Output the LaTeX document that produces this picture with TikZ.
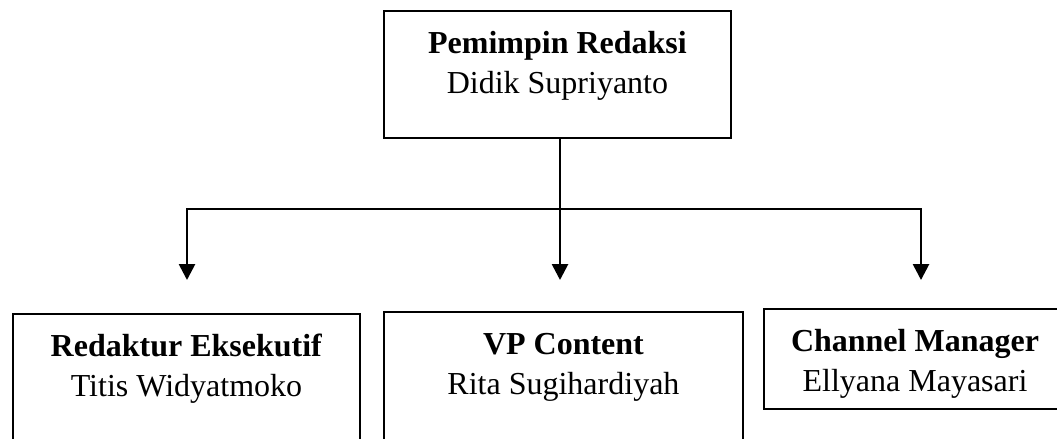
\documentclass[tikz,border=0pt]{standalone}
\usepackage{fontspec}
\setmainfont{Liberation Serif}
\usepackage{tikz}
\usetikzlibrary{arrows.meta}
\tikzset{
	jabatan/.style={draw,line width=0.75pt,inner sep=0pt,anchor=north west},
	garis/.style={line width=1pt},
	panah/.style={line width=1pt,->}
}
% isi kotak: lebar, tinggi, jabatan, nama
\newcommand{\isikotak}[4]{\parbox[t][#2][t]{#1}{\centering\fontsize{12}{15}\selectfont
	\rule{0pt}{15.75pt}\textbf{#3}\\#4}}

\begin{document}
\begin{tikzpicture}[line cap=rect,line join=miter,>={Triangle[width=6pt,length=6pt]},x=0.375pt,y=-0.375pt]
	\useasboundingbox (0,0) rectangle (1057,438);
	\clip (0,0) rectangle (1057,438);
	% kotak
	\node[jabatan] (pemimpin) at (383,10) {\isikotak{130.1pt}{47.6pt}{Pemimpin Redaksi}{Didik Supriyanto}};
	\node[jabatan] (redaktur) at (12,313) {\isikotak{130.1pt}{60pt}{Redaktur Eksekutif}{Titis Widyatmoko}};
	\node[jabatan] (vp) at (383,311) {\isikotak{134.6pt}{60pt}{VP Content}{Rita Sugihardiyah}};
	\node[jabatan] (channel) at (763,308) {\isikotak{120pt}{37.5pt}{\hspace*{-6.75pt}Channel Manager}{\hspace*{-6.75pt}Ellyana Mayasari}};
	% percabangan
	\coordinate (kiri) at (187,209);
	\coordinate (tengah) at (560,209);
	\coordinate (kanan) at (921,209);
	\coordinate (ujungKiri) at (187,280);
	\coordinate (ujungTengah) at (560,280);
	\coordinate (ujungKanan) at (921,280);
	\draw[garis] (kiri) -- (kanan);
	\draw[panah] (pemimpin.south -| tengah) -- (ujungTengah);
	\draw[panah] (kiri) -- (ujungKiri);
	\draw[panah] (kanan) -- (ujungKanan);
\end{tikzpicture}
\end{document}
